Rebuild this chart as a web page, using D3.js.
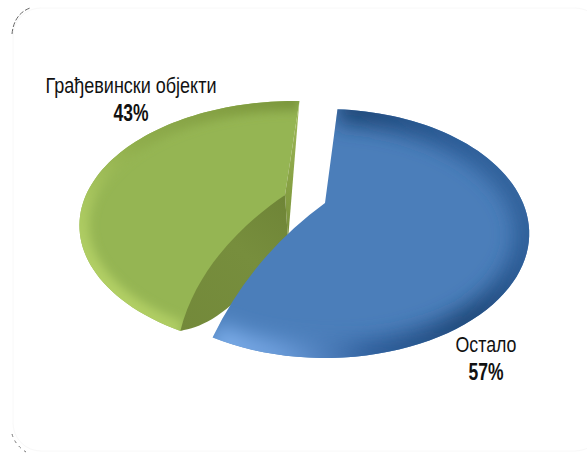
<!DOCTYPE html>
<html lang="sr">
  <head>
    <meta charset="UTF-8" />
    <title>Грађевински објекти</title>
    <script src="https://d3js.org/d3.v7.min.js"></script>
    <style>
      html, body { margin: 0; padding: 0; background: #fff; }
      svg { display: block; }
      .label { font-family: "Liberation Sans", Arial, sans-serif; font-size: 22px; fill: #111; text-anchor: middle; }
      .pct { font-weight: bold; font-size: 23px; }
    </style>
  </head>
  <body>
    <svg width="587" height="454"></svg>
    <script>
      const categories = ["Остало", "Грађевински објекти"];
      const values = [57, 43];

      const svg = d3.select("svg");
      const defs = svg.append("defs");

      // tilted pie: circle in the plane, seen with a bit of perspective
      const persp = 0.245;
      const startDeg = 3;
      const slices = d3.pie().sort(null)
        .padAngle(3 * Math.PI / 180)
        .startAngle(startDeg * Math.PI / 180)
        .endAngle((startDeg + 360) * Math.PI / 180)(values);

      // lead: the rim runs a little past the slice start, the bevel tip of the original
      // bow: how far the closing edge bulges out of the straight line
      const looks = [
        { ox: 325, oy: 203, fx: 198, fy: 117, apexDx: 0, lead: 0, bow: 22, base: "#4b7eba" },
        { ox: 295, oy: 195, fx: 209, fy: 117, apexDx: -10, lead: 4, bow: 0, base: "#95b553" },
      ];

      function project(a, r, look) {
        const u = r * Math.sin(a);
        const v = -r * Math.cos(a);
        const w = 1 - persp * v;
        return [look.ox + (look.fx * u) / w, look.oy + (look.fy * v) / w];
      }

      function rimPoints(d, look) {
        const n = 80;
        const a0 = d.startAngle + d.padAngle / 2 - (look.lead * Math.PI) / 180;
        const a1 = d.endAngle - d.padAngle / 2;
        return d3.range(n + 1).map((i) => project(a0 + ((a1 - a0) * i) / n, 1, look));
      }

      const line = d3.line();

      // frame remains
      svg.append("rect")
        .attr("x", 13).attr("y", 8).attr("width", 590).attr("height", 443)
        .attr("rx", 28).attr("fill", "none").attr("stroke", "#f8f8f8");
      svg.append("path")
        .attr("d", "M12,34 Q14,14 30,8")
        .attr("fill", "none").attr("stroke", "#666").attr("stroke-width", 1).attr("stroke-dasharray", "5 2");
      svg.append("path")
        .attr("d", "M12,434 Q15,445 26,452")
        .attr("fill", "none").attr("stroke", "#777").attr("stroke-width", 1).attr("stroke-dasharray", "3 4");

      const blur = (id, s) =>
        defs.append("filter").attr("id", id)
          .attr("x", "-20%").attr("y", "-20%").attr("width", "140%").attr("height", "140%")
          .append("feGaussianBlur").attr("stdDeviation", s);
      blur("blurWide", 10);
      blur("blurSoft", 5);

      function grad(id, x1, y1, x2, y2, stops) {
        const g = defs.append("linearGradient").attr("id", id)
          .attr("gradientUnits", "userSpaceOnUse")
          .attr("x1", x1).attr("y1", y1).attr("x2", x2).attr("y2", y2);
        stops.forEach((s) => g.append("stop").attr("offset", s[0]).attr("stop-color", s[1]));
      }

      grad("rimBlue", 215, 340, 530, 170, [
        [0, "#7fb0ec"], [0.14, "#6c9ddb"], [0.36, "#2f5f9c"], [0.65, "#1e4676"], [0.85, "#2a5a94"], [1, "#35669f"],
      ]);
      grad("rimGreen", 80, 330, 300, 100, [
        [0, "#bcd96c"], [0.3, "#a9c75f"], [0.55, "#8fad4c"], [1, "#7b963c"],
      ]);
      grad("wallGreen", 180, 330, 285, 200, [
        [0, "#73893a"], [0.6, "#778e3d"], [1, "#6f8537"],
      ]);
      grad("sideGreen", 285, 110, 285, 240, [
        [0, "#9fb95a"], [0.6, "#86a043"], [1, "#788f3c"],
      ]);

      function drawSlice(d, i) {
        const look = looks[i];
        const rim = rimPoints(d, look);
        const apex = [look.ox + look.apexDx, look.oy];
        const end = rim[rim.length - 1];

        // outline: apex, along the rim, then a bowed edge back to the apex
        const dx = apex[0] - end[0];
        const dy = apex[1] - end[1];
        const len = Math.hypot(dx, dy);
        const outlinePath = d3.path();
        outlinePath.moveTo(apex[0], apex[1]);
        rim.forEach((p) => outlinePath.lineTo(p[0], p[1]));
        outlinePath.quadraticCurveTo(
          (apex[0] + end[0]) / 2 + (look.bow * dy) / len,
          (apex[1] + end[1]) / 2 - (look.bow * dx) / len,
          apex[0],
          apex[1]
        );
        outlinePath.closePath();
        const outline = outlinePath.toString();

        const id = "clip" + i;
        defs.append("clipPath").attr("id", id).append("path").attr("d", outline);

        const g = svg.append("g");
        g.append("path").attr("d", outline).attr("fill", look.base);

        const shade = g.append("g").attr("clip-path", `url(#${id})`);
        shade.append("path")
          .attr("d", line(rim))
          .attr("fill", "none")
          .attr("stroke", i === 0 ? "url(#rimBlue)" : "url(#rimGreen)")
          .attr("stroke-width", i === 0 ? 30 : 20)
          .attr("filter", i === 0 ? "url(#blurWide)" : "url(#blurSoft)");
        return { rim, apex, g };
      }

      // green slice first, blue lies over its cut wall
      const green = drawSlice(slices[1], 1);
      const tip = green.rim[0];
      const corner = green.rim[green.rim.length - 1];
      const foot = [green.apex[0] + 3, green.apex[1] + 45];

      // thin side face from the far corner down the cut
      green.g.append("path")
        .attr("d", line([corner, green.apex, foot]) + "Z")
        .attr("fill", "url(#sideGreen)");

      // cut wall, bows up towards the apex, its lower edge runs under the blue slice
      const wall = d3.path();
      wall.moveTo(green.apex[0], green.apex[1]);
      wall.bezierCurveTo(245, 222, 196, 268, tip[0], tip[1]);
      wall.bezierCurveTo(205, 326, 232, 316, foot[0], foot[1]);
      wall.closePath();
      green.g.append("path").attr("d", wall.toString()).attr("fill", "url(#wallGreen)");

      drawSlice(slices[0], 0);

      const labelSpots = [
        { x: 486, y: 352, y2: 380, w: 61 },
        { x: 131, y: 93, y2: 121, w: 171 },
      ];
      categories.forEach((c, i) => {
        const p = labelSpots[i];
        svg.append("text").attr("class", "label")
          .attr("x", p.x).attr("y", p.y)
          .attr("textLength", p.w).attr("lengthAdjust", "spacingAndGlyphs")
          .text(c);
        svg.append("text").attr("class", "label pct")
          .attr("x", p.x).attr("y", p.y2)
          .attr("textLength", 35).attr("lengthAdjust", "spacingAndGlyphs")
          .text(values[i] + "%");
      });
    </script>
  </body>
</html>
